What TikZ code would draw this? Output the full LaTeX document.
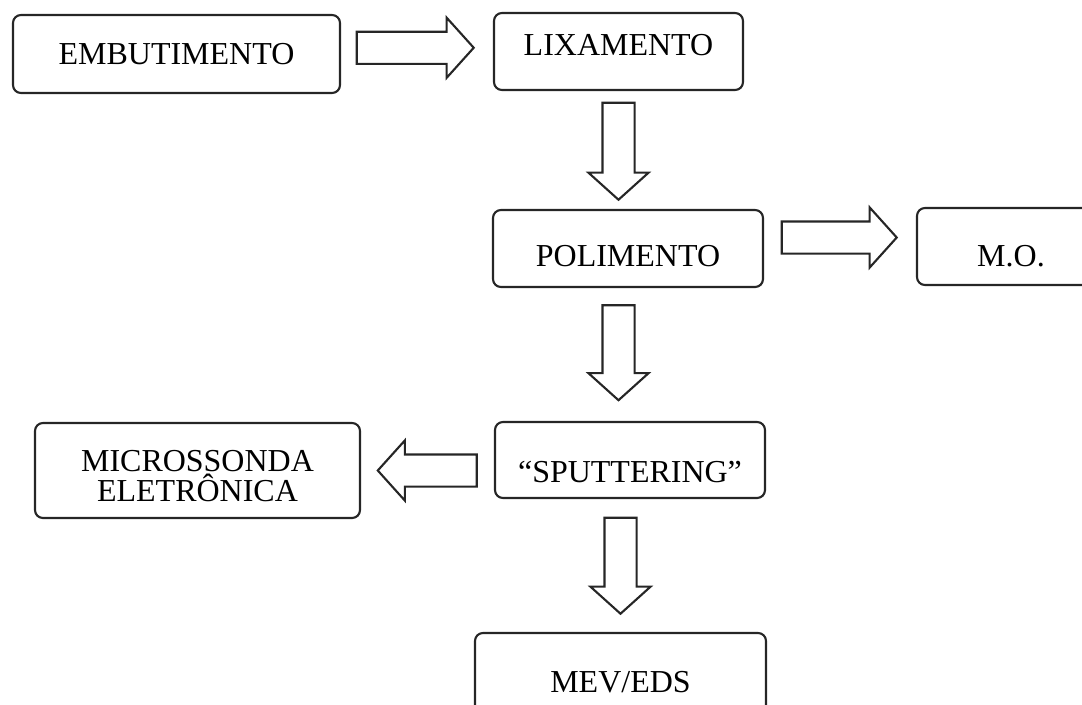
\documentclass[tikz,border=0pt]{standalone}
\usepackage{fontspec}
\setmainfont{Liberation Serif}
\usetikzlibrary{shapes.arrows,calc}
\begin{document}
\begin{tikzpicture}[
        box/.style={draw=black!85, line width=1.2pt, rounded corners=4.5pt,
          minimum height=1.54cm, inner sep=0pt, align=center,
          font=\fontsize{18.2}{17.5}\selectfont},
        low/.style={text height=#1, text depth=0pt},
        high/.style={text height=11.9pt, text depth=#1},
        arw/.style={single arrow, draw=black!85, line width=1.2pt,
          inner xsep=0pt, inner ysep=0.3cm, minimum width=1.16cm,
          single arrow head extend=0.28cm, single arrow tip angle=96}
      ]
        \clip (0,0) rectangle (21.64,-14.08);
        \node[box, minimum width=6.54cm, minimum height=1.56cm] (emb) at (3.53,-1.08) {EMBUTIMENTO};
        \node[box, high=7.9pt, minimum width=4.98cm] (lix) at (12.37,-1.03) {LIXAMENTO};
        \node[box, low=21pt, minimum width=5.40cm] (pol) at (12.56,-4.97) {POLIMENTO};
        \node[box, low=22.7pt, minimum width=3.76cm] (mo) at (20.22,-4.93) {M.O.};
        \node[box, low=25.5pt, minimum width=5.40cm, minimum height=1.52cm] (spu) at (12.60,-9.20) {“SPUTTERING”};
        \node[box, low=35.6pt, minimum width=6.50cm, minimum height=1.90cm] (mic) at (3.95,-9.41) {MICROSSONDA\\ELETRÔNICA};
        \node[box, low=21pt, minimum width=5.82cm, minimum height=1.64cm] (mev) at (12.41,-13.48) {MEV/EDS};
        \node[arw, minimum height=2.34cm] (a1) at ($(emb.east)!0.5!(lix.west)+(-0.18,0.1)$) {};
        \node[arw, rotate=-90, minimum height=1.94cm] (a2) at ($(lix.south)!0.5!(lix.south |- pol.north)+(0,0.12)$) {};
        \node[arw, minimum height=2.30cm] (a3) at ($(pol.east)!0.5!(mo.west)+(-0.16,0.2)$) {};
        \node[arw, rotate=-90, minimum height=1.90cm] (a4) at ($(lix |- pol.south)!0.5!(lix |- spu.north)+(0,0.18)$) {};
        \node[arw, rotate=180, minimum height=1.98cm] (a5) at ($(mic.east)!0.5!(mic.east -| spu.west)+(0.14,0)$) {};
        \node[arw, rotate=-90, minimum height=1.92cm] (a6) at ($(mev.north |- spu.south)!0.5!(mev.north)+(0,0.14)$) {};
      \end{tikzpicture}
\end{document}
